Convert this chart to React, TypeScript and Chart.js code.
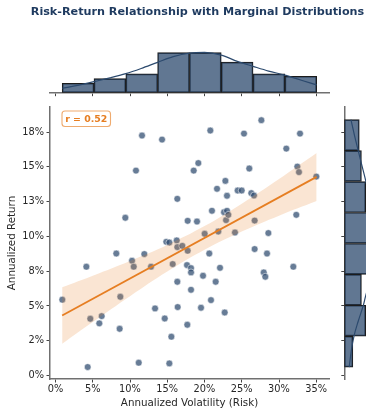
import React, { useEffect, useRef } from 'react';
import { Chart, registerables } from 'chart.js';

Chart.register(...registerables);

const TITLE = 'Risk-Return Relationship with Marginal Distributions';
const X_LABEL = 'Annualized Volatility (Risk)';
const Y_LABEL = 'Annualized Return';
const R_TEXT = 'r = 0.52';

// Scatter: annualized volatility (%) and annualized return (%)
const risk = [
  0.91, 4.14, 4.32, 4.67, 5.88, 6.2, 8.16, 8.61, 8.7, 9.37,
  10.27, 10.5, 10.8, 11.17, 11.61, 11.92, 12.82, 13.36, 14.3, 14.66,
  14.87, 15.28, 15.28, 15.55, 15.73, 16.27, 16.35, 16.35, 16.35, 16.4,
  17.02, 17.65, 17.69, 17.74, 17.74, 18.19, 18.19, 18.19, 18.55, 19.17,
  18.99, 19.53, 19.8, 20.02, 20.64, 20.78, 20.87, 21.0, 21.5, 21.68,
  21.85, 22.08, 22.62, 22.8, 22.71, 23.02, 23.02, 22.89, 23.2, 24.09,
  24.45, 24.99, 25.3, 26.01, 26.28, 26.64, 26.73, 26.73, 27.63, 27.95,
  28.16, 28.39, 28.57, 30.98, 31.92, 32.32, 32.46, 32.68, 32.82, 35.01,
];
const ret = [
  5.45, 7.82, 0.61, 4.08, 3.75, 4.27, 8.77, 3.36, 5.66, 11.34,
  8.25, 7.82, 14.73, 0.92, 17.25, 8.73, 7.82, 4.82, 16.96, 4.1,
  9.61, 9.56, 0.87, 2.79, 8.01, 9.71, 9.23, 6.74, 12.7, 4.92,
  9.32, 7.94, 3.65, 11.12, 8.97, 7.72, 7.41, 6.16, 14.73, 15.27,
  11.07, 4.87, 7.17, 10.19, 8.77, 17.61, 5.42, 11.84, 6.74, 13.42,
  10.35, 7.74, 11.74, 13.99, 4.53, 12.92, 11.84, 11.17, 11.55, 10.28,
  13.3, 13.3, 17.39, 14.88, 13.11, 12.94, 11.14, 9.09, 18.35, 7.41,
  7.1, 8.77, 10.24, 16.31, 7.82, 11.55, 15.02, 14.62, 17.39, 14.3,
];

// Tick labels
const xTickValues = [0, 5, 10, 15, 20, 25, 30, 35];
const xTickLabels = ['0%', '5%', '10%', '15%', '20%', '25%', '30%', '35%'];
const yTickValues = [0, 2.5, 5, 7.5, 10, 12.5, 15, 17.5];
const yTickLabels = ['0%', '2%', '5%', '8%', '10%', '13%', '15%', '18%'];

// Marginal histograms (bin centres, counts)
const riskBinCenters = [3.03, 7.3, 11.57, 15.84, 20.11, 24.38, 28.65, 32.92];
const riskBinCounts = [4, 6, 8, 17, 17, 13, 8, 7];
const retBinCenters = [1.71, 3.94, 6.16, 8.38, 10.61, 12.83, 15.06, 17.28];
const retBinCounts = [4, 10, 8, 19, 14, 10, 8, 7];

// KDE curves (count scale)
const riskKdeX = [0.89, 3, 5.16, 7.3, 9.43, 11.5, 13.7, 15.8, 17.97, 20, 22.24, 24.4, 26.51, 28.6, 30.78, 33, 35.05];
const riskKdeY = [1.9, 3.1, 4.7, 6.3, 8.1, 10.3, 12.9, 15.3, 16.8, 17.1, 16.0, 13.3, 11.2, 9.2, 7.5, 5.3, 3.3];
const retKdeY = [0.6, 1.7, 2.82, 3.9, 5.05, 5.8, 7.27, 8.4, 9.5, 10.6, 11.72, 12.8, 13.94, 15.05, 16.17, 17.3, 18.39];
const retKdeCount = [2.3, 3.2, 4.5, 6.5, 8.9, 10.1, 13.0, 14.8, 15.2, 14.6, 13.3, 11.8, 10.1, 8.3, 6.5, 4.7, 3.1];

// Regression line and confidence band
const fitX = [0.89, 35.05];
const fitY = [4.31, 14.28];
const bandX = [0.89, 5, 10, 15, 20, 25, 30, 35.05];
const bandUpper = [6.34, 7.18, 8.24, 9.39, 10.74, 12.35, 14.13, 16.0];
const bandLower = [2.28, 3.84, 5.7, 7.47, 9.04, 10.35, 11.49, 12.54];

const X_MIN = -0.74;
const X_MAX = 36.71;
const Y_MIN = -0.25;
const Y_MAX = 19.3;

const NAVY = 'rgba(44,74,110,0.75)';
const ORANGE = '#e67e22';
const SPINE = '#707070';
const TEXT = '#262626';

export default function App() {
  const mainRef = useRef<HTMLCanvasElement>(null);
  const topRef = useRef<HTMLCanvasElement>(null);
  const rightRef = useRef<HTMLCanvasElement>(null);

  useEffect(() => {
    Chart.defaults.font.family = "'DejaVu Sans', sans-serif";
    const charts: Chart[] = [];

    const rBoxPlugin = {
      id: 'rbox',
      afterDraw(chart: any) {
        const ctx = chart.ctx;
        ctx.save();
        ctx.font = "bold 9.4px 'DejaVu Sans'";
        const x = 62, y = 111, w = 48.5, h = 15.5, r = 3;
        ctx.beginPath();
        ctx.moveTo(x + r, y);
        ctx.arcTo(x + w, y, x + w, y + h, r);
        ctx.arcTo(x + w, y + h, x, y + h, r);
        ctx.arcTo(x, y + h, x, y, r);
        ctx.arcTo(x, y, x + w, y, r);
        ctx.closePath();
        ctx.fillStyle = 'rgba(255,255,255,0.9)';
        ctx.fill();
        ctx.strokeStyle = 'rgba(230,126,34,0.65)';
        ctx.lineWidth = 1.1;
        ctx.stroke();
        ctx.fillStyle = ORANGE;
        ctx.textAlign = 'center';
        ctx.textBaseline = 'middle';
        ctx.fillText(R_TEXT, x + w / 2, y + h / 2 + 0.5);
        ctx.restore();
      },
    };

    const titlePlugin = {
      id: 'figtitle',
      afterDraw(chart: any) {
        const ctx = chart.ctx;
        ctx.save();
        ctx.font = "bold 11.2px 'DejaVu Sans'";
        ctx.fillStyle = '#1e3a5f';
        ctx.textAlign = 'center';
        ctx.textBaseline = 'middle';
        ctx.fillText(TITLE, 197.5, 12.5);
        ctx.restore();
      },
    };

    if (mainRef.current) {
      charts.push(
        new Chart(mainRef.current, {
          type: 'scatter',
          data: {
            datasets: [
              {
                label: 'fit',
                data: fitX.map((x, i) => ({ x, y: fitY[i] })),
                showLine: true,
                borderColor: ORANGE,
                borderWidth: 1.8,
                pointRadius: 0,
                order: 1,
              } as any,
              {
                label: 'ci upper',
                data: bandX.map((x, i) => ({ x, y: bandUpper[i] })),
                showLine: true,
                borderWidth: 0,
                borderColor: 'rgba(0,0,0,0)',
                pointRadius: 0,
                tension: 0.4,
                fill: '+1',
                backgroundColor: 'rgba(230,126,34,0.2)',
                order: 2,
              },
              {
                label: 'ci lower',
                data: bandX.map((x, i) => ({ x, y: bandLower[i] })),
                showLine: true,
                borderWidth: 0,
                borderColor: 'rgba(0,0,0,0)',
                pointRadius: 0,
                tension: 0.4,
                fill: false,
                order: 2,
              },
              {
                label: 'funds',
                data: risk.map((x, i) => ({ x, y: ret[i] })),
                pointRadius: 3.4,
                backgroundColor: 'rgba(44,74,110,0.72)',
                borderColor: 'rgba(255,255,255,0.9)',
                borderWidth: 0.6,
                order: 3,
              },
            ],
          },
          options: {
            responsive: false,
            animation: false,
            devicePixelRatio: 1,
            layout: { padding: { left: 0, right: 37, top: 107, bottom: 0 } },
            plugins: { legend: { display: false }, tooltip: { enabled: false } },
            scales: {
              x: {
                type: 'linear',
                min: X_MIN,
                max: X_MAX,
                afterBuildTicks: (s: any) => {
                  s.ticks = xTickValues.map((v) => ({ value: v }));
                },
                afterFit: (s: any) => {
                  s.height = 29;
                },
                ticks: {
                  callback: (_v: any, i: number) => xTickLabels[i],
                  font: { size: 9.8 },
                  color: TEXT,
                  padding: 1,
                  maxRotation: 0,
                  autoSkip: false,
                },
                grid: { drawOnChartArea: false, drawTicks: true, tickLength: 3.5, tickColor: '#444', tickWidth: 1 },
                border: { color: SPINE, width: 1.5 },
                title: { display: true, text: X_LABEL, color: TEXT, font: { size: 10.3, lineHeight: 1 }, padding: 0 },
              },
              y: {
                type: 'linear',
                min: Y_MIN,
                max: Y_MAX,
                afterBuildTicks: (s: any) => {
                  s.ticks = yTickValues.map((v) => ({ value: v }));
                },
                afterFit: (s: any) => {
                  s.width = 50;
                },
                ticks: {
                  callback: (_v: any, i: number) => yTickLabels[i],
                  font: { size: 9.8 },
                  color: TEXT,
                  padding: 2.5,
                  autoSkip: false,
                },
                grid: { drawOnChartArea: false, drawTicks: true, tickLength: 3.5, tickColor: '#444', tickWidth: 1 },
                border: { color: SPINE, width: 1.5 },
                title: { display: true, text: Y_LABEL, color: TEXT, font: { size: 10.3, lineHeight: 1.2 }, padding: { top: 6.5, bottom: 0 } },
              },
            },
          } as any,
          plugins: [rBoxPlugin],
        })
      );
    }

    if (topRef.current) {
      charts.push(
        new Chart(topRef.current, {
          type: 'bar',
          data: {
            datasets: [
              {
                type: 'line',
                data: riskKdeX.map((x, i) => ({ x, y: riskKdeY[i] })),
                borderColor: '#2c4a6e',
                borderWidth: 1.2,
                pointRadius: 0,
                tension: 0.4,
                cubicInterpolationMode: 'monotone',
                order: 0,
              } as any,
              {
                type: 'bar',
                data: riskBinCenters.map((x, i) => ({ x, y: riskBinCounts[i] })),
                backgroundColor: NAVY,
                borderColor: '#1c1c1c',
                borderWidth: 1,
                borderSkipped: false,
                barPercentage: 1,
                categoryPercentage: 1,
                order: 1,
              } as any,
            ],
          },
          options: {
            responsive: false,
            animation: false,
            devicePixelRatio: 1,
            layout: { padding: { left: 50, right: 37, top: 50.7, bottom: 311.3 } },
            plugins: { legend: { display: false }, tooltip: { enabled: false } },
            scales: {
              x: {
                type: 'linear',
                min: X_MIN,
                max: X_MAX,
                offset: false,
                afterBuildTicks: (s: any) => {
                  s.ticks = xTickValues.map((v) => ({ value: v }));
                },
                afterFit: (s: any) => {
                  s.height = 4;
                },
                ticks: { display: false },
                grid: { offset: false, drawOnChartArea: false, drawTicks: true, tickLength: 3.5, tickColor: '#444' },
                border: { color: SPINE, width: 1.5 },
              },
              y: { type: 'linear', min: 0, max: 17.85, display: false },
            },
          } as any,
          plugins: [titlePlugin],
        })
      );
    }

    if (rightRef.current) {
      charts.push(
        new Chart(rightRef.current, {
          type: 'bar',
          data: {
            datasets: [
              {
                type: 'line',
                data: retKdeY.map((y, i) => ({ x: retKdeCount[i], y })),
                borderColor: '#2c4a6e',
                borderWidth: 1.2,
                pointRadius: 0,
                tension: 0.4,
                order: 0,
              } as any,
              {
                type: 'bar',
                data: retBinCenters.map((y, i) => ({ x: retBinCounts[i], y })),
                backgroundColor: NAVY,
                borderColor: '#1c1c1c',
                borderWidth: 1,
                borderSkipped: false,
                barPercentage: 1,
                categoryPercentage: 1,
                order: 1,
              } as any,
            ],
          },
          options: {
            indexAxis: 'y',
            responsive: false,
            animation: false,
            devicePixelRatio: 1,
            layout: { padding: { left: 40.3, right: 13, top: 107, bottom: 29 } },
            plugins: { legend: { display: false }, tooltip: { enabled: false } },
            scales: {
              x: { type: 'linear', min: 0, max: 19.95, display: false },
              y: {
                type: 'linear',
                position: 'left',
                min: Y_MIN,
                max: Y_MAX,
                offset: false,
                afterBuildTicks: (s: any) => {
                  s.ticks = yTickValues.map((v) => ({ value: v }));
                },
                afterFit: (s: any) => {
                  s.width = 4;
                },
                ticks: { display: false },
                grid: { offset: false, drawOnChartArea: false, drawTicks: true, tickLength: 3, tickColor: '#444' },
                border: { color: SPINE, width: 1.5 },
              },
            },
          } as any,
        })
      );
    }

    return () => {
      charts.forEach((c) => c.destroy());
    };
  }, []);

  return (
    <div
      style={{
        position: 'absolute',
        left: 0,
        top: 0,
        width: 366,
        height: 408,
        overflow: 'hidden',
        background: '#ffffff',
      }}
    >
      <canvas ref={mainRef} width={366} height={408} style={{ position: 'absolute', left: 0, top: 0 }} />
      <canvas ref={topRef} width={366} height={408} style={{ position: 'absolute', left: 0, top: 0 }} />
      <canvas ref={rightRef} width={100} height={408} style={{ position: 'absolute', left: 300, top: 0 }} />
    </div>
  );
}
